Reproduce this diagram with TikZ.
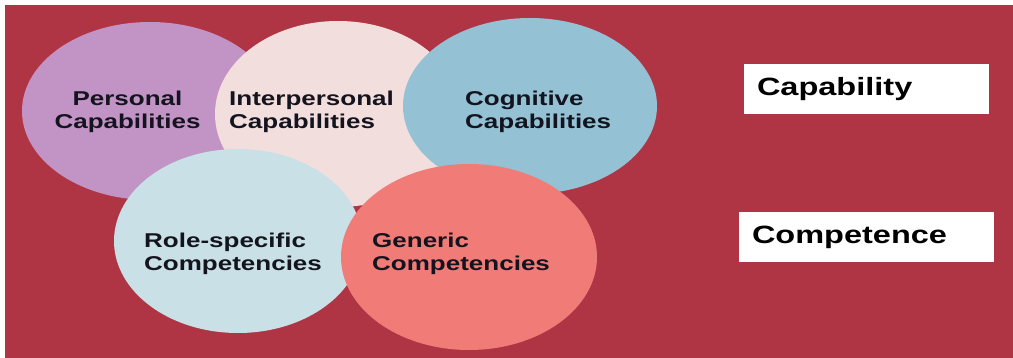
\documentclass[tikz,border=0pt]{standalone}
\usepackage{fontspec}
\usepackage{xcolor}
\usepackage{tikz}
\usetikzlibrary{shapes.geometric}
\newfontfamily\diagfont[FakeStretch=1.3]{Liberation Sans}
\definecolor{slidered}{RGB}{175,53,69}
\definecolor{perspurple}{RGB}{194,148,198}
\definecolor{interpink}{RGB}{243,222,222}
\definecolor{cogblue}{RGB}{148,193,211}
\definecolor{roleblue}{RGB}{201,224,231}
\definecolor{genericred}{RGB}{241,123,119}
\definecolor{inkdark}{RGB}{20,20,30}

\begin{document}
\begin{tikzpicture}[x=1pt, y=-1pt,
					bubble/.style={
						ellipse, draw=none, inner sep=0pt, outer sep=0pt
					},
					bubbletext/.style={
						text=inkdark, inner sep=0pt, align=left, anchor=base west,
						font=\diagfont\bfseries\fontsize{20}{23.5}\selectfont
					},
					tagbox/.style={
						fill=white, minimum height=50pt, inner xsep=13pt, inner ysep=0pt,
						align=left, text=black,
						font=\diagfont\bfseries\fontsize{25}{30}\selectfont
					}
					]
					\useasboundingbox (0,0) rectangle (1013,358);
					% slide background
					\fill[slidered] (5,5) rectangle (1013,358);
					
					% capability bubbles, back to front
					\node[bubble, fill=perspurple, minimum width=256pt, minimum height=178pt] (personal) at (150,111) {};
					\node[bubble, fill=interpink, minimum width=246pt, minimum height=186pt] (interpersonal) at (338,114) {};
					\node[bubble, fill=cogblue, minimum width=254pt, minimum height=176pt] (cognitive) at (530,106) {};
					
					% competence bubbles lie on top
					\node[bubble, fill=roleblue, minimum width=248pt, minimum height=184pt] (rolespecific) at (238,241) {};
					\node[bubble, fill=genericred, minimum width=256pt, minimum height=186pt] (generic) at (469,257) {};
					
					% bubble labels (base = last line)
					\node[bubbletext, align=center, anchor=base] (personaltext) at (127.5,129) {Personal\\Capabilities};
					\node[bubbletext] (interpersonaltext) at (229,129) {Interpersonal\\Capabilities};
					\node[bubbletext] (cognitivetext) at (465,129) {Cognitive\\Capabilities};
					\node[bubbletext] (rolespecifictext) at (144,271) {Role-specific\\Competencies};
					\node[bubbletext] (generictext) at (372,271) {Generic\\Competencies};
					
					% legend boxes on the right
					\node[tagbox, minimum width=245pt, text width=219pt] (capability) at (866.5,89) {Capability};
					\node[tagbox, minimum width=255pt, text width=229pt] (competence) at (866.5,237) {Competence};
				\end{tikzpicture}
\end{document}
